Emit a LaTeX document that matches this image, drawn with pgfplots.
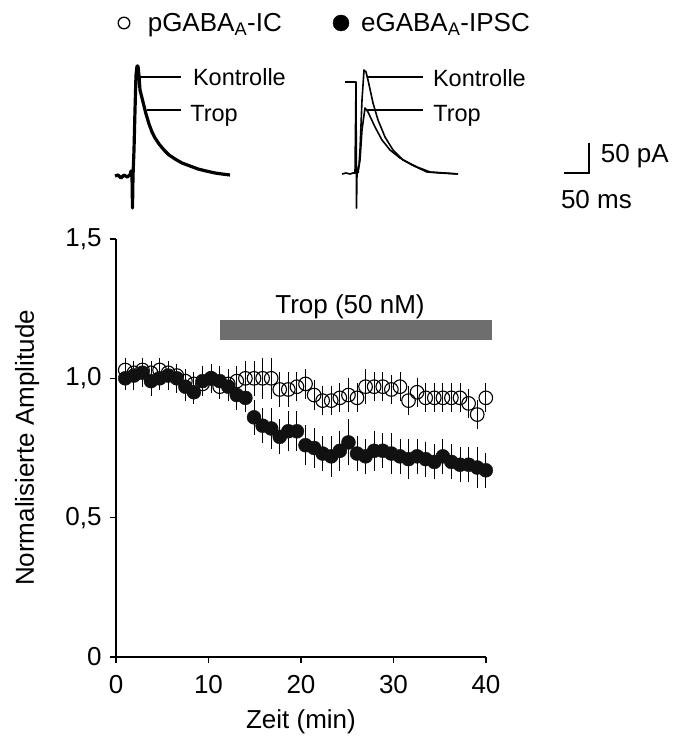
\documentclass[border=0pt]{standalone}
\usepackage{pgfplots}
\pgfplotsset{compat=1.18}
\usepackage{pgfplotstable}
\usepackage{fontspec}
\setmainfont{Liberation Sans}
\definecolor{bargray}{HTML}{6E6E6E}
\definecolor{dotblack}{HTML}{111111}
\newcommand{\fs}{\fontsize{26}{30}\selectfont}
\newcommand{\fsm}{\fontsize{23.5}{28}\selectfont}

\pgfplotstableread{
t v e
1.00 1.00 0.03
1.93 1.01 0.04
2.86 1.02 0.04
3.78 0.99 0.04
4.71 1.00 0.03
5.64 1.01 0.04
6.57 1.00 0.04
7.50 0.97 0.04
8.42 0.95 0.03
9.35 0.99 0.04
10.28 1.00 0.04
11.21 0.99 0.04
12.14 0.97 0.04
13.06 0.94 0.04
13.99 0.93 0.04
14.92 0.86 0.05
15.85 0.83 0.05
16.78 0.82 0.06
17.70 0.79 0.05
18.63 0.81 0.06
19.56 0.81 0.06
20.49 0.76 0.06
21.42 0.75 0.06
22.34 0.73 0.05
23.27 0.72 0.06
24.20 0.74 0.06
25.13 0.77 0.07
26.06 0.73 0.05
26.98 0.72 0.05
27.91 0.74 0.06
28.84 0.74 0.05
29.77 0.73 0.06
30.70 0.72 0.05
31.62 0.71 0.06
32.55 0.72 0.05
33.48 0.71 0.05
34.41 0.70 0.05
35.34 0.72 0.05
36.26 0.70 0.05
37.19 0.69 0.05
38.12 0.69 0.05
39.05 0.68 0.06
39.98 0.67 0.05
}\eGABA

\pgfplotstableread{
t v e
1.00 1.03 0.03
1.93 1.02 0.03
2.86 1.03 0.03
3.78 1.02 0.03
4.71 1.03 0.03
5.64 1.02 0.03
6.57 1.01 0.03
7.50 0.99 0.03
8.42 0.98 0.03
9.35 0.98 0.03
10.28 1.00 0.03
11.21 0.97 0.03
12.14 0.98 0.04
13.06 0.99 0.04
13.99 1.00 0.05
14.92 1.00 0.05
15.85 1.00 0.06
16.78 1.00 0.06
17.70 0.96 0.05
18.63 0.96 0.05
19.56 0.97 0.04
20.49 0.98 0.04
21.42 0.94 0.04
22.34 0.92 0.04
23.27 0.92 0.04
24.20 0.93 0.04
25.13 0.94 0.05
26.06 0.93 0.04
26.98 0.97 0.05
27.91 0.97 0.04
28.84 0.97 0.04
29.77 0.96 0.04
30.70 0.97 0.04
31.62 0.92 0.04
32.55 0.95 0.04
33.48 0.93 0.04
34.41 0.93 0.04
35.34 0.93 0.04
36.26 0.93 0.04
37.19 0.93 0.04
38.12 0.91 0.04
39.05 0.87 0.04
39.98 0.93 0.04
}\pGABA

\begin{document}
\begin{tikzpicture}
\useasboundingbox (0pt,0pt) rectangle (675pt,749pt);

% ---------- main axis ----------
\begin{axis}[
  at={(116pt,92pt)}, anchor=south west,
  scale only axis, width=370pt, height=418pt,
  xmin=0, xmax=40, ymin=0, ymax=1.5,
  axis lines=left,
  axis line style={-, line width=1.3pt},
  xtick={0,10,20,30,40},
  xticklabels={0,10,20,30,40},
  ytick={0,0.5,1,1.5},
  yticklabels={0,{0,5},{1,0},{1,5}},
  tick align=outside,
  major tick length=6pt,
  tick style={line width=1.3pt, black},
  xticklabel style={font=\fs, anchor=base, yshift=-30pt},
  yticklabel style={font=\fs, xshift=-5pt},
  every axis x label/.style={at={(axis description cs:0.5,-0.170)}, anchor=base, font=\fs},
  every axis y label/.style={at={(axis description cs:-0.222,0.5)}, anchor=base, rotate=90, font=\fs},
  xlabel={Zeit (min)},
  ylabel={Normalisierte Amplitude},
  clip=false,
]
% drug application bar
\addplot[fill=bargray, draw=none] coordinates {(11.2,1.137) (40.6,1.137) (40.6,1.209) (11.2,1.209)} -- cycle;
\node[anchor=base, font=\fs] at (axis cs:25.3,1.232) {Trop (50 nM)};

% pGABA_A-IC (open circles)
\addplot[only marks, mark=o, mark size=6.8pt, mark options={draw=black, fill=white, line width=1.1pt},
  error bars/.cd, y dir=both, y explicit,
  error bar style={line width=0.9pt, black},
  error mark options={mark size=3.5pt, line width=0.9pt, black}]
  table[x=t, y=v, y error=e] {\pGABA};

% eGABA_A-IPSC (filled circles)
\addplot[only marks, mark=*, mark size=7pt, mark options={draw=dotblack, fill=dotblack},
  error bars/.cd, y dir=both, y explicit,
  error bar style={line width=0.9pt, black},
  error mark options={mark size=3.5pt, line width=0.9pt, black}]
  table[x=t, y=v, y error=e] {\eGABA};
\end{axis}

% ---------- overlay axis in pixel coordinates (traces, legend, scale bar) ----------
\begin{axis}[
  at={(0pt,0pt)}, anchor=south west,
  scale only axis, width=675pt, height=749pt,
  xmin=0, xmax=675, ymin=0, ymax=749, y dir=reverse,
  hide axis, clip=false,
]
% legend
\addplot[only marks, mark=o, mark size=5.8pt, mark options={line width=1.3pt, black}] coordinates {(124,23)};
\node[anchor=base east, inner sep=0pt, font=\fs] at (axis cs:282,32) {pGABA\textsubscript{A}-IC};
\addplot[only marks, mark=*, mark size=8pt, mark options={black}] coordinates {(341,23)};
\node[anchor=base east, inner sep=0pt, font=\fs] at (axis cs:530,32) {eGABA\textsubscript{A}-IPSC};

% left trace (pGABA_A-IC, Kontrolle and Trop overlap)
\addplot[black, line width=3.2pt, line join=round] coordinates {
(115,176) (118,175) (121,178) (124,175) (127,177) (130,175) (131,171) (132,176) (132.5,208) (133,176)
(134,150) (135,110) (136,75) (137,66) (138,66) (139,76) (140,90) (142,98) (144,106) (146,114)
(149,124) (152,132) (155,138) (159,144) (164,150) (169,155) (175,159) (182,163) (190,166)
(198,169) (206,171) (215,173) (222,174) (230,175)};
\addplot[black, line width=1.5pt] coordinates {(138,77) (181,77)};
\addplot[black, line width=1.5pt] coordinates {(147,110) (181,110)};
\node[anchor=base east, inner sep=0pt, font=\fsm] at (axis cs:286,86) {Kontrolle};
\node[anchor=base east, inner sep=0pt, font=\fsm] at (axis cs:238,122) {Trop};

% right trace (eGABA_A-IPSC)
\addplot[black, line width=1.2pt] coordinates {(345,82) (356,82)};
\addplot[black, line width=1.6pt, line join=round] coordinates {
(342,174) (346,173) (350,174) (353,173) (355,173) (356,82) (356.5,208) (357,173)
(359,165) (360,150) (362,100) (364,70) (366,72) (368,80) (373,103) (378,120) (385,137)
(393,150) (403,160) (417,167) (430,172) (445,173) (458,174)};
\addplot[black, line width=1.6pt, line join=round] coordinates {
(358,173) (360,160) (362,130) (365,108) (368,112) (375,127) (382,140) (390,150)
(400,158) (412,165) (427,172) (440,173) (458,174)};
\addplot[black, line width=1.5pt] coordinates {(367,77) (423,77)};
\addplot[black, line width=1.5pt] coordinates {(367,110) (423,110)};
\node[anchor=base east, inner sep=0pt, font=\fsm] at (axis cs:526,87) {Kontrolle};
\node[anchor=base east, inner sep=0pt, font=\fsm] at (axis cs:481,122) {Trop};

% scale bar
\addplot[black, line width=1.5pt] coordinates {(564,173) (589,173) (589,143)};
\node[anchor=base east, inner sep=0pt, font=\fs] at (axis cs:669,163) {50 pA};
\node[anchor=base east, inner sep=0pt, font=\fs] at (axis cs:632,209) {50 ms};
\end{axis}
\end{tikzpicture}
\end{document}
